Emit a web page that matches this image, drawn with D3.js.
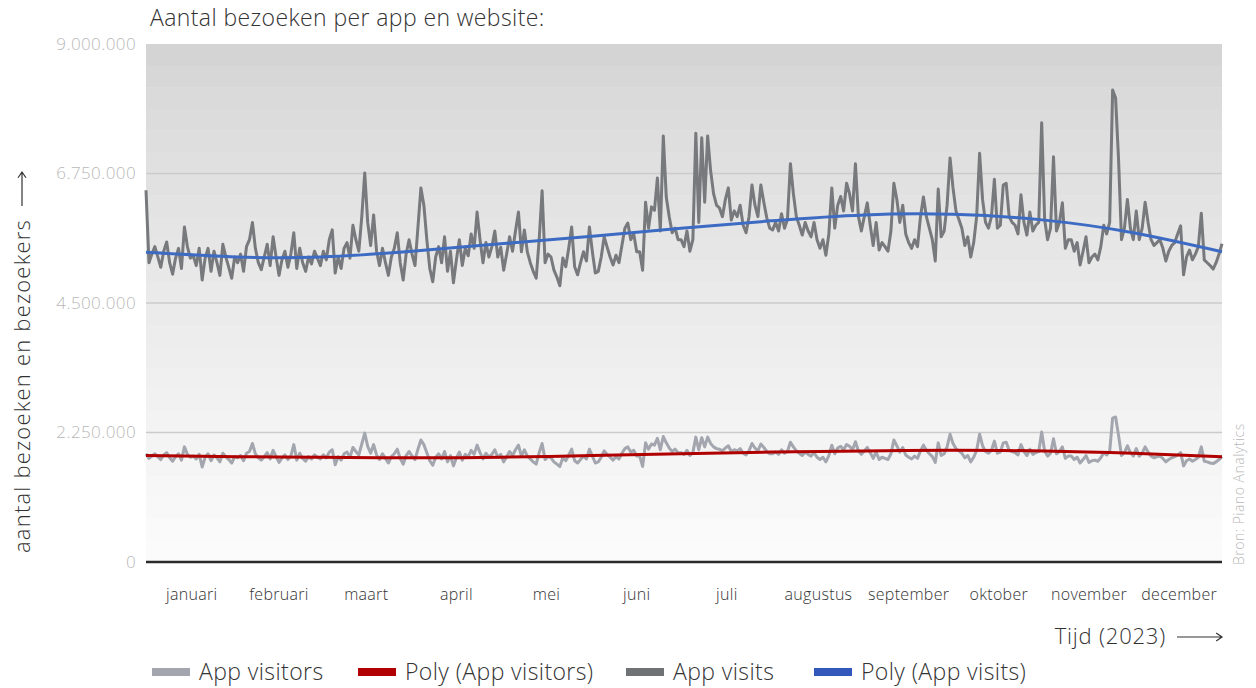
<!DOCTYPE html>
<html>
<head>
<meta charset="utf-8">
<script src="https://cdn.jsdelivr.net/npm/d3@7"></script>
<style>
  body { margin: 0; background: #fff; }
  svg { font-family: "Open Sans", "Lato", sans-serif; font-weight: 300; }
</style>
</head>
<body>
<svg id="chart" width="1256" height="688"></svg>
<script>
'use strict';

// Daily values, in units of 10.000 (so 530 = 5.300.000)
var appVisits = [
  646,520,535,548,530,512,540,556,520,500,528,545,510,582,548,528,532,515,545,490,528,545,505,540,520,498,552,530,512,493,530,
  520,535,505,548,560,590,545,520,508,530,552,515,565,530,498,525,540,512,535,572,510,545,520,505,530,518,540,528,
  515,540,525,560,577,502,530,510,545,555,528,585,560,540,600,676,590,550,603,540,515,545,520,498,530,545,572,520,490,535,560,
  535,515,582,650,620,560,510,487,530,548,520,565,505,540,485,525,560,515,545,532,570,545,608,560,520,555,530,548,575,530,
  547,507,535,565,540,575,608,539,577,539,520,505,493,560,645,520,535,530,507,495,480,528,513,545,582,513,499,520,539,523,582,
  539,502,505,530,565,547,530,516,533,520,550,580,589,560,570,539,539,507,625,580,617,611,667,575,740,634,600,572,580,560,
  560,548,575,540,560,745,590,737,625,740,680,640,620,615,600,630,650,594,610,600,620,585,572,600,655,620,600,655,625,598,580,
  577,590,575,605,580,595,692,640,600,585,568,590,575,565,590,560,545,560,533,570,650,580,620,635,610,658,640,610,692,600,575,
  600,624,585,550,590,542,555,548,540,575,658,630,590,620,570,555,545,560,548,600,634,600,580,560,523,648,565,575,620,702,
  650,610,595,580,550,565,530,555,600,710,630,590,580,600,665,580,585,655,658,600,590,585,570,638,590,568,608,575,585,590,763,
  595,560,580,704,575,590,624,545,560,560,540,555,516,540,565,520,530,535,525,548,585,570,590,820,806,700,560,580,630,580,
  560,610,560,580,625,590,560,550,555,560,545,523,540,550,555,570,584,499,530,542,525,535,548,606,525,520,515,509,520,535,553
];

var appVisitors = [
  188,180,184,188,183,178,186,190,181,175,183,188,177,200,187,182,184,179,187,165,182,188,176,186,181,174,189,183,178,172,183,
  181,185,176,189,192,206,188,181,177,183,190,179,194,183,173,181,186,178,184,204,177,189,180,175,183,179,186,182,
  179,186,181,191,195,169,183,177,188,191,182,199,192,186,205,224,201,189,204,186,178,188,180,172,183,188,196,180,170,185,192,
  184,178,196,212,204,190,176,168,182,188,179,192,174,185,167,181,191,177,187,183,194,187,203,190,179,189,182,187,195,182,
  187,174,183,192,185,195,203,184,195,184,179,174,170,190,206,178,183,181,174,170,166,181,176,186,196,176,172,178,184,179,196,
  184,172,174,182,193,187,182,177,183,179,189,197,200,191,194,184,184,166,207,196,205,203,215,195,218,207,198,192,196,190,
  190,187,194,185,190,217,195,216,200,217,206,200,197,196,193,198,202,192,195,193,197,189,186,193,206,198,193,205,199,192,188,
  188,191,187,195,189,192,208,200,193,189,185,191,187,184,190,182,178,182,174,185,203,188,198,201,195,204,201,195,209,193,187,
  193,199,190,180,191,178,182,180,178,188,212,202,191,199,186,182,179,184,180,193,203,194,188,183,173,207,185,188,200,222,
  206,197,193,189,181,185,174,182,194,222,202,192,189,194,210,189,191,207,208,194,192,190,186,204,192,185,196,187,190,192,226,
  193,184,189,214,188,192,200,180,184,184,178,182,172,178,185,173,176,177,175,181,190,186,192,250,252,220,185,190,202,190,
  184,197,184,189,200,191,184,181,183,184,180,174,178,181,183,186,190,167,176,179,175,178,182,200,175,174,172,171,174,178,183
];

// trend lines, read at the first day of each month and the last day
var polyDays = [0, 31, 59, 90, 120, 151, 181, 212, 243, 273, 304, 334, 364];
var polyVisits = [538, 530, 530, 540, 553, 566, 580, 593, 603, 604, 594, 572, 539];
var polyVisitors = [185, 183, 182, 181, 182, 185, 188, 191, 193, 194, 193, 189, 183];

var months = ['januari', 'februari', 'maart', 'april', 'mei', 'juni', 'juli',
              'augustus', 'september', 'oktober', 'november', 'december'];
var monthStart = [0, 31, 59, 90, 120, 151, 181, 212, 243, 273, 304, 334, 365];
var yTicks = [0, 2250000, 4500000, 6750000, 9000000];

var legendItems = [
  {label: 'App visitors', color: '#a3a6ae', x: 152},
  {label: 'Poly (App visitors)', color: '#b00000', x: 358},
  {label: 'App visits', color: '#707376', x: 626},
  {label: 'Poly (App visits)', color: '#3358bb', x: 814}
];

function arrow(g, x1, y1, x2, y2) {
    // thin line with an open arrow head at (x2, y2)
    var a = Math.atan2(y2 - y1, x2 - x1), h = 7;
    g.append('path')
        .attr('d', 'M' + x1 + ',' + y1 + 'L' + x2 + ',' + y2 +
            'M' + (x2 - h * Math.cos(a - 0.6)) + ',' + (y2 - h * Math.sin(a - 0.6)) +
            'L' + x2 + ',' + y2 +
            'L' + (x2 - h * Math.cos(a + 0.6)) + ',' + (y2 - h * Math.sin(a + 0.6)))
        .style('fill', 'none')
        .style('stroke', '#333')
        .style('stroke-width', 1.2);
}

function chart() {
    var svg = d3.select('#chart');
    var left = 146, right = 1222, plotTop = 44, bottom = 562;

    var x = d3.scaleLinear().domain([0, 364]).range([left, right]);
    var y = d3.scaleLinear().domain([0, 9000000]).range([bottom, plotTop]);

    var nl = d3.formatLocale({decimal: ',', thousands: '.', grouping: [3], currency: ['€', '']});
    var fmt = nl.format(',');

    // stepped grey background, darker at the top
    var bands = 24;
    var bandH = (bottom - plotTop) / bands;
    var shade = d3.interpolateRgb('#d4d4d4', '#fbfbfb');
    svg.append('g')
        .selectAll('rect')
        .data(d3.range(bands))
        .enter().append('rect')
        .attr('x', left)
        .attr('y', function(d) { return plotTop + d * bandH; })
        .attr('width', right - left)
        .attr('height', bandH + 0.5)
        .attr('fill', function(d) { return shade(Math.pow(d / (bands - 1), 0.8)); });

    // gridlines
    svg.append('g')
        .selectAll('line')
        .data(yTicks.slice(1, 4))
        .enter().append('line')
        .attr('x1', left).attr('x2', right)
        .attr('y1', function(d) { return y(d); })
        .attr('y2', function(d) { return y(d); })
        .style('stroke', '#cbcbcb')
        .style('stroke-width', 1.5);

    // y axis labels
    var yAxis = svg.append('g')
        .attr('transform', 'translate(' + (left - 7) + ',0)')
        .call(d3.axisLeft(y).tickValues(yTicks).tickSize(0).tickFormat(fmt));
    yAxis.select('.domain').remove();
    yAxis.selectAll('text')
        .style('font-family', '"Open Sans", "Lato", sans-serif')
        .style('font-weight', 300)
        .style('font-size', '17px')
        .style('letter-spacing', '0.4px')
        .style('fill', '#b8b8b8');

    var line = d3.line()
        .x(function(d, i) { return x(i); })
        .y(function(d) { return y(d * 10000); });

    var polyLine = d3.line()
        .x(function(d, i) { return x(polyDays[i]); })
        .y(function(d) { return y(d * 10000); })
        .curve(d3.curveNatural);

    svg.append('path')
        .datum(appVisitors)
        .attr('d', line)
        .style('fill', 'none')
        .style('stroke', '#a3a6ae')
        .style('stroke-width', 3)
        .style('stroke-linejoin', 'round');

    svg.append('path')
        .datum(polyVisitors)
        .attr('d', polyLine)
        .style('fill', 'none')
        .style('stroke', '#b00000')
        .style('stroke-width', 3);

    svg.append('path')
        .datum(appVisits)
        .attr('d', line)
        .style('fill', 'none')
        .style('stroke', '#77797c')
        .style('stroke-width', 3)
        .style('stroke-linejoin', 'round');

    svg.append('path')
        .datum(polyVisits)
        .attr('d', polyLine)
        .style('fill', 'none')
        .style('stroke', '#3d6bc3')
        .style('stroke-width', 3);

    // baseline
    svg.append('line')
        .attr('x1', left).attr('x2', right)
        .attr('y1', bottom).attr('y2', bottom)
        .style('stroke', '#2b2b2b')
        .style('stroke-width', 2.5);

    // month labels
    svg.append('g')
        .selectAll('text')
        .data(months)
        .enter().append('text')
        .attr('x', function(d, i) { return x((monthStart[i] + monthStart[i + 1]) / 2); })
        .attr('y', 600)
        .attr('text-anchor', 'middle')
        .style('font-size', '16px')
        .style('letter-spacing', '0.3px')
        .style('fill', '#333')
        .text(function(d) { return d; });

    svg.append('text')
        .attr('x', 150).attr('y', 26)
        .style('font-size', '23px')
        .style('letter-spacing', '0.4px')
        .style('fill', '#333')
        .text('Aantal bezoeken per app en website:');

    svg.append('text')
        .attr('transform', 'translate(30,553) rotate(-90)')
        .attr('text-anchor', 'start')
        .style('font-size', '22px')
        .style('letter-spacing', '1.2px')
        .style('fill', '#333')
        .text('aantal bezoeken en bezoekers');
    arrow(svg, 22, 206, 22, 172);

    svg.append('text')
        .attr('x', 1166).attr('y', 644)
        .attr('text-anchor', 'end')
        .style('font-size', '22px')
        .style('letter-spacing', '0.8px')
        .style('fill', '#333')
        .text('Tijd (2023)');
    arrow(svg, 1177, 637, 1222, 637);

    svg.append('text')
        .attr('transform', 'translate(1244,565) rotate(-90)')
        .attr('text-anchor', 'start')
        .style('font-size', '14px')
        .style('letter-spacing', '0.5px')
        .style('fill', '#b8b8b8')
        .text('Bron: Piano Analytics');

    // legend
    var legend = svg.append('g')
        .selectAll('g')
        .data(legendItems)
        .enter().append('g')
        .attr('transform', function(d) { return 'translate(' + d.x + ',672)'; });
    legend.append('rect')
        .attr('x', 0).attr('y', -4)
        .attr('width', 38).attr('height', 8)
        .attr('fill', function(d) { return d.color; });
    legend.append('text')
        .attr('x', 47).attr('y', 8)
        .style('font-size', '23px')
        .style('letter-spacing', '0.4px')
        .style('fill', '#333')
        .text(function(d) { return d.label; });
}

chart();
</script>
</body>
</html>
